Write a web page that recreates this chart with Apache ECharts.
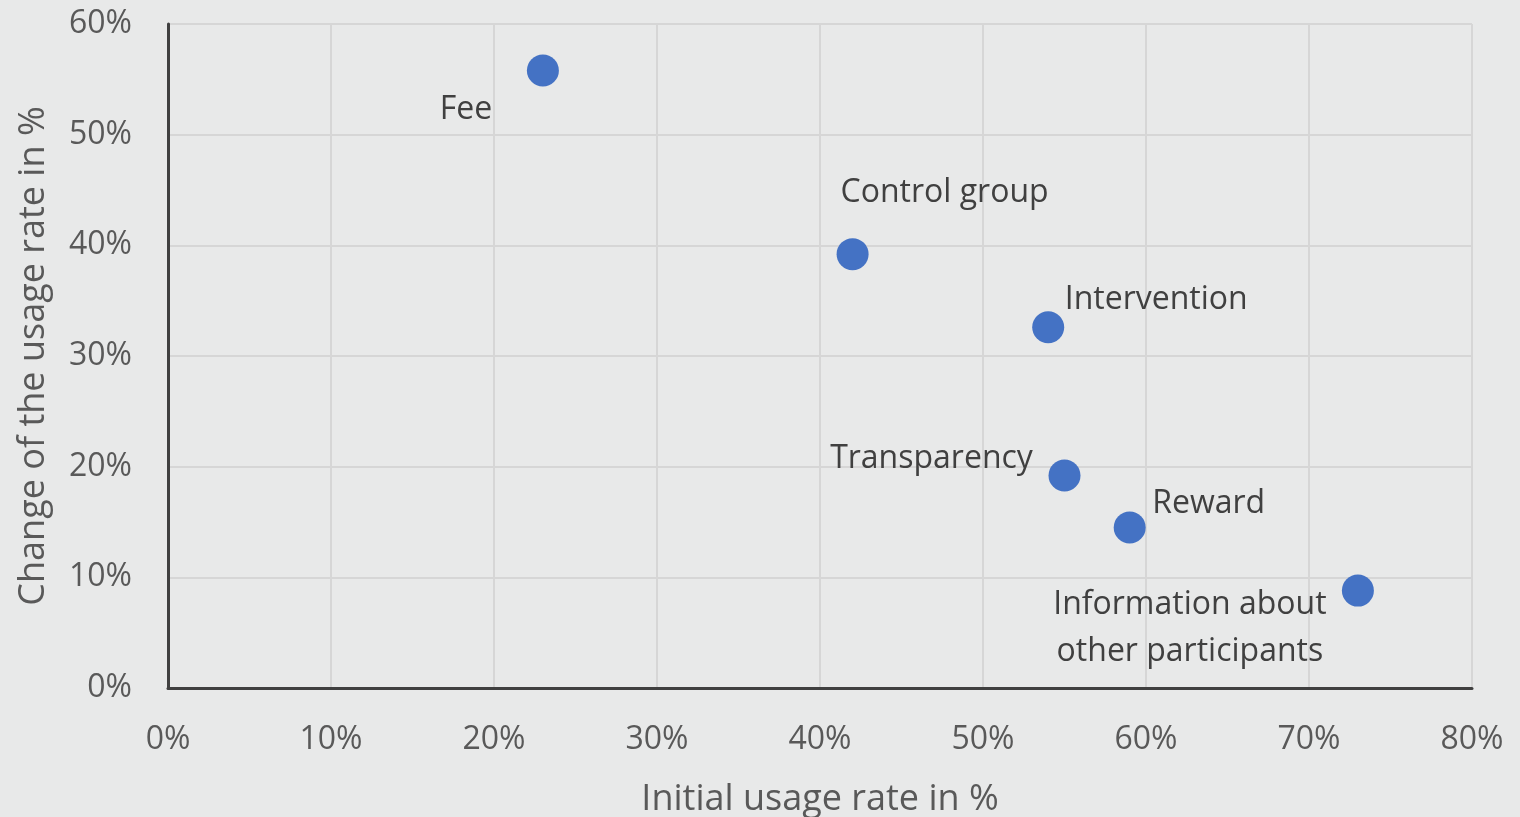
<!DOCTYPE html>
<html>
<head>
<meta charset="utf-8">
<script src="https://cdn.jsdelivr.net/npm/echarts@6/dist/echarts.min.js"></script>
<style>
  html, body { margin: 0; padding: 0; background: #e8e9e9; }
  #chart { width: 1520px; height: 817px; }
</style>
</head>
<body>
<div id="chart"></div>
<script>
const names = ['Fee', 'Control group', 'Intervention', 'Transparency', 'Reward', 'Information about\nother participants'];
const initialRate = [23, 42, 54, 55, 59, 73];
const changeRate = [55.8, 39.2, 32.6, 19.2, 14.5, 8.8];
// label offsets from the marker centre
const labelOffsets = [[-77, 39], [92, -61], [108, -27], [-133, -17], [79, -24], [-168, 38]];

const chart = echarts.init(document.getElementById('chart'));
const font = '"Open Sans", sans-serif';

const option = {
  backgroundColor: '#e8e9e9',
  grid: {
    left: 168,
    right: 48,
    top: 24,
    bottom: 129,
    outerBoundsMode: 'none',
  },
  xAxis: {
    type: 'value',
    min: 0,
    max: 80,
    interval: 10,
    name: 'Initial usage rate in %',
    nameLocation: 'middle',
    nameGap: 94,
    nameTextStyle: { color: '#595959', fontSize: 36, fontFamily: font },
    axisLine: { lineStyle: { color: '#404040', width: 3 } },
    axisTick: { show: false },
    axisLabel: {
      formatter: '{value}%',
      color: '#595959',
      fontSize: 32,
      fontFamily: font,
      margin: 36,
    },
    splitLine: { lineStyle: { color: '#d6d6d6', width: 2 } },
  },
  yAxis: {
    type: 'value',
    min: 0,
    max: 60,
    interval: 10,
    name: 'Change of the usage rate in %',
    nameLocation: 'middle',
    nameGap: 116,
    nameTextStyle: { color: '#595959', fontSize: 36, fontFamily: font },
    axisLine: { show: true, lineStyle: { color: '#404040', width: 3 } },
    axisTick: { show: false },
    axisLabel: {
      formatter: '{value}%',
      color: '#595959',
      fontSize: 32,
      fontFamily: font,
      margin: 36,
    },
    splitLine: { lineStyle: { color: '#d6d6d6', width: 2 } },
  },
  series: [
    {
      type: 'scatter',
      symbolSize: 32,
      itemStyle: { color: '#4472c4', opacity: 1 },
      data: names.map((n, i) => ({
        name: n,
        value: [initialRate[i], changeRate[i]],
        label: {
          show: true,
          position: 'inside',
          offset: labelOffsets[i],
          formatter: '{b}',
          color: '#404040',
          fontSize: 32,
          lineHeight: 47,
          fontFamily: font,
          align: 'center',
        },
      })),
    },
  ],
};
chart.setOption(option);
</script>
</body>
</html>
